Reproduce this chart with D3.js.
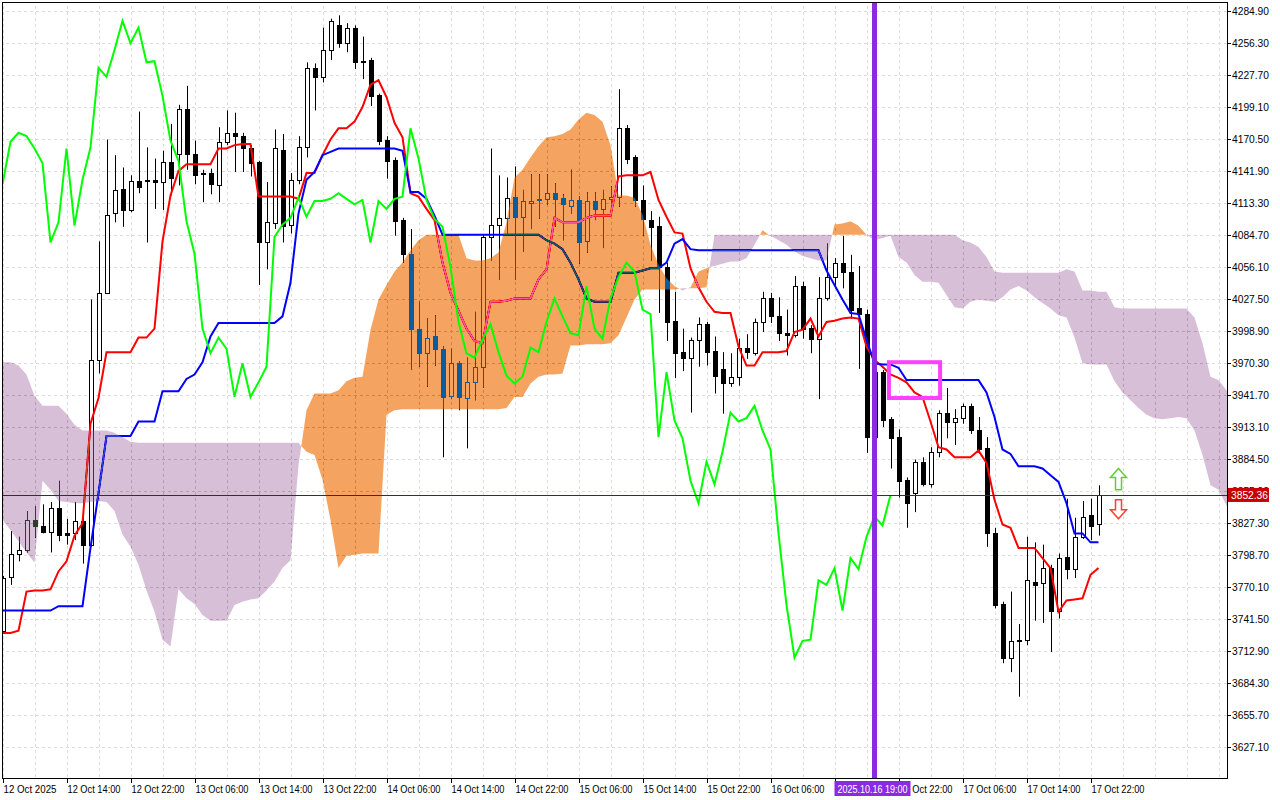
<!DOCTYPE html>
<html><head><meta charset="utf-8">
<script src="https://cdn.jsdelivr.net/npm/d3@7"></script>
<style>
html,body{margin:0;padding:0;background:#fff;}
svg{display:block;font-family:"Liberation Sans",Arial,sans-serif;}
</style></head>
<body><svg id="c" width="1280" height="800"></svg>
<script>
// ---- data (hourly ETH candles, 12 Oct 06:00 .. 17 Oct 23:00) ----
const opens=[3731,3779,3800,3803,3830,3825,3819,3841,3818,3818,3829,3808,3973,4033,4104,4126,4107,4133,4133,4134,4132,4150,4157,4197,4157,4140,4140,4129,4168,4176,4173,4162,4150,4078,4095,4161,4094,4134,4163,4234,4226,4250,4272,4256,4270,4240,4241,4210,4170,4152,4098,4068,4001,3979,3994,3983,3941,3970,3939,3953,3967,4083,4094,4100,4119,4101,4113,4117,4117,4122,4118,4111,4116,4079,4115,4108,4117,4119,4180,4154,4116,4098,4093,4056,4008,3980,3975,3991,4005,3981,3965,3952,3958,3984,3979,4007,4028,4012,3997,3995,4039,4002,3992,4028,4047,4060,4052,4019,4014,3904,3962,3920,3904,3866,3854,3882,3862,3891,3926,3918,3921,3932,3910,3894,3818,3755,3707,3722,3723,3775,3774,3787,3749,3797,3786,3815,3834,3826];
const highs=[3780,3820,3815,3838,3842,3844,3846,3865,3831,3846,3837,4027,4079,4170,4156,4145,4138,4195,4163,4153,4160,4184,4201,4218,4169,4143,4144,4181,4196,4194,4176,4165,4151,4132,4179,4175,4140,4173,4239,4238,4270,4278,4281,4274,4272,4262,4243,4211,4173,4154,4100,4090,4025,4010,4013,3985,3983,3972,3975,4016,4085,4162,4138,4136,4146,4125,4139,4139,4139,4131,4121,4143,4119,4123,4123,4125,4128,4215,4183,4156,4129,4106,4101,4060,4034,4001,3993,4011,4007,3994,3980,3979,3992,3996,4010,4034,4033,4029,4018,4048,4043,4004,4047,4077,4064,4084,4067,4057,4018,3970,3964,3922,3911,3868,3884,3886,3895,3928,3948,3929,3934,3934,3922,3904,3823,3757,3766,3737,3815,3810,3808,3790,3800,3849,3832,3847,3849,3861];
const lows=[3730,3772,3793,3801,3814,3818,3801,3811,3808,3812,3791,3806,3961,4033,4096,4092,4105,4122,4078,4108,4107,4120,4129,4143,4130,4114,4121,4114,4165,4141,4141,4137,4040,4054,4090,4078,4086,4130,4154,4196,4221,4241,4252,4248,4233,4224,4200,4165,4135,4084,4060,3964,3967,3949,3968,3886,3938,3928,3894,3937,3948,4062,4045,4085,4045,4070,4090,4099,4112,4092,4080,4104,4059,4069,4098,4073,4113,4110,4148,4110,4084,4062,4015,3990,3957,3963,3926,3967,3968,3943,3925,3949,3950,3974,3977,3998,4006,3990,3977,3993,3992,3979,3938,4026,4037,4037,4010,3965,3890,3890,3913,3876,3850,3823,3837,3860,3859,3886,3903,3897,3916,3907,3890,3806,3751,3702,3694,3672,3718,3740,3738,3712,3742,3777,3778,3813,3812,3816];
const closes=[3778,3800,3803,3830,3825,3819,3841,3817,3817,3829,3808,3973,4033,4103,4125,4107,4133,4128,4134,4132,4150,4136,4197,4157,4138,4139,4130,4168,4176,4173,4162,4149,4078,4096,4162,4093,4134,4163,4234,4226,4250,4276,4256,4270,4239,4240,4209,4169,4151,4097,4068,4001,3979,3993,3983,3940,3970,3940,3953,3967,4083,4094,4100,4118,4101,4115,4115,4117,4122,4117,4112,4116,4078,4115,4108,4117,4119,4180,4153,4116,4099,4092,4056,4007,3979,3975,3991,4005,3980,3959,3952,3958,3984,3980,4007,4028,4012,3997,3995,4039,4001,3992,4028,4047,4060,4052,4018,4014,3904,3962,3919,3903,3865,3845,3882,3862,3891,3926,3918,3921,3932,3910,3893,3818,3754,3707,3722,3723,3776,3772,3787,3749,3796,3786,3815,3833,3825,3852.36];
const tenkan=[3729,3729,3731,3766,3767,3767,3768,3784,3793,3816,3827,3916,3939,3980,3980,3980,3980,3993,3993,4001,4079,4120,4142,4148,4148,4148,4148,4162,4162,4165,4166,4166,4119,4119,4119,4119,4119,4117,4140,4140,4156,4170,4180,4180,4186,4199,4219,4223,4208,4185,4172,4122,4119,4108,4098,4060,4033,4017,4001,3990,3988,4025,4025,4026,4028,4028,4028,4045,4054,4100,4096,4096,4096,4100,4102,4102,4102,4137,4138,4138,4138,4141,4116,4101,4087,4086,4055,4038,4025,4016,4015,4015,3985,3968,3968,3980,3980,3980,3981,3998,4000,4010,3994,4007,4008,4010,4011,4010,3985,3973,3967,3960,3957,3953,3944,3940,3918,3895,3893,3886,3886,3886,3892,3881,3848,3826,3823,3805,3805,3805,3796,3787,3748,3758,3759,3760,3781,3787];
const kijun=[3749,3749,3749,3749,3749,3749,3749,3753,3753,3753,3753,3805,3854,3905,3905,3905,3905,3918,3918,3918,3945,3945,3945,3956,3960,3971,3994,4006,4006,4006,4006,4006,4006,4006,4006,4012,4042,4104,4134,4141,4156,4159,4162,4162,4162,4162,4162,4162,4162,4162,4160,4123,4123,4117,4102,4085,4085,4085,4085,4085,4085,4085,4085,4085,4085,4085,4085,4085,4080,4077,4072,4060,4045,4028,4025,4025,4025,4051,4051,4051,4053,4055,4055,4060,4077,4081,4072,4071,4071,4071,4071,4071,4071,4071,4071,4071,4071,4071,4071,4071,4071,4071,4071,4053,4040,4027,4015,4014,3991,3970,3969,3969,3966,3955,3955,3955,3955,3955,3955,3955,3955,3955,3955,3944,3922,3893,3889,3878,3878,3878,3876,3870,3864,3845,3818,3818,3810,3810];
const spanA=[3830,3821,3811,3801,3792,3865,3857,3847,3846,3845,3845,3846,3847,3846,3838,3817,3806,3790,3767,3748,3723,3717,3768,3760,3755,3745,3740,3740,3740,3754,3757,3759,3760,3767,3775,3787,3794,3879,3928,3943,3943,3943,3946,3954,3957,3958,4000,4027,4040,4052,4060,4071,4080,4085,4085,4085,4085,4085,4064,4062,4062,4064,4069,4096,4136,4143,4154,4164,4172,4173,4175,4179,4188,4194,4192,4186,4165,4120,4120,4118,4103,4076,4058,4046,4039,4035,4038,4052,4055,4057,4059,4061,4061,4064,4076,4089,4084,4080,4076,4070,4066,4064,4062,4062,4094,4095,4097,4093,4085,4080,4082,4084,4065,4060,4049,4043,4043,4042,4031,4020,4019,4025,4027,4026,4025,4029,4036,4039,4035,4029,4024,4019,4013,4011,3993,3970,3969,3969,3969,3954,3944,3937,3930,3924,3921,3920,3921,3922,3921,3910,3888,3861,3857,3843,3834];
const spanB=[3971,3971,3968,3960,3941,3932,3932,3932,3925,3915,3910,3910,3910,3910,3908,3904,3900,3899,3899,3899,3899,3899,3899,3899,3899,3899,3899,3899,3899,3899,3899,3899,3899,3899,3899,3899,3899,3899,3891,3888,3866,3830,3787,3798,3799,3800,3800,3800,3924,3928,3929,3929,3929,3929,3929,3929,3929,3929,3929,3929,3929,3929,3929,3930,3940,3940,3952,3958,3960,3960,3961,3986,3986,3987,3987,3987,3988,3995,4011,4027,4036,4036,4036,4036,4036,4037,4037,4037,4038,4085,4085,4085,4085,4085,4085,4085,4085,4085,4085,4085,4085,4085,4085,4085,4085,4085,4085,4085,4085,4085,4085,4085,4085,4085,4085,4085,4085,4085,4085,4085,4080,4078,4074,4065,4052,4051,4051,4051,4051,4051,4051,4051,4051,4054,4052,4035,4035,4034,4034,4020,4019,4019,4019,4019,4019,4019,4019,4019,4019,4011,3988,3958,3955,3946,3941];
const priceTicks=["4284.90","4256.30","4227.70","4199.10","4170.50","4141.90","4113.30","4084.70","4056.10","4027.50","3998.90","3970.30","3941.70","3913.10","3884.50","3855.90","3827.30","3798.70","3770.10","3741.50","3712.90","3684.30","3655.70","3627.10"];
const timeLabels=["12 Oct 2025","12 Oct 14:00","12 Oct 22:00","13 Oct 06:00","13 Oct 14:00","13 Oct 22:00","14 Oct 06:00","14 Oct 14:00","14 Oct 22:00","15 Oct 06:00","15 Oct 14:00","15 Oct 22:00","16 Oct 06:00","16 Oct 14:00","16 Oct 22:00","17 Oct 06:00","17 Oct 14:00","17 Oct 22:00"];
const lastPrice=3852.36;
const markerBar=109, markerLabel="2025.10.16 19:00";
const boxBars=[110.8,117.2], boxPrices=[3971,3939];
const arrowBar=139.5;

// ---- scales ----
const W=1227,H=778;
const x=d3.scaleLinear().domain([0,1]).range([2.5,10.5]);
const y=d3.scaleLinear().domain([3599.4,4294.7]).range([H,0]);
const svg=d3.select("#c");
svg.append("rect").attr("width",1280).attr("height",800).attr("fill","#fff");
svg.append("defs").append("clipPath").attr("id","clip").append("rect").attr("x",2).attr("y",2).attr("width",W-2).attr("height",H-2);
const g=svg.append("g").attr("clip-path","url(#clip)");
g.append("rect").attr("width",W).attr("height",H).attr("fill","#fff");

// grid
const gx=d3.range(0,160,4);
g.selectAll(".gv").data(gx).join("line").attr("x1",d=>Math.round(x(d))+0.5).attr("x2",d=>Math.round(x(d))+0.5).attr("y1",0).attr("y2",H)
 .attr("stroke","#dcdcdc").attr("stroke-dasharray","3,3");
g.selectAll(".gh").data(priceTicks).join("line").attr("x1",0).attr("x2",W).attr("y1",d=>Math.round(y(+d))+0.5).attr("y2",d=>Math.round(y(+d))+0.5)
 .attr("stroke","#dcdcdc").attr("stroke-dasharray","3,3");

// candles
const idx=d3.range(closes.length);
g.selectAll(".wick").data(idx).join("line").attr("x1",i=>Math.round(x(i))+0.5).attr("x2",i=>Math.round(x(i))+0.5).attr("y1",i=>y(highs[i])).attr("y2",i=>y(lows[i]))
 .attr("stroke","#000").attr("stroke-width",1);
g.selectAll(".body").data(idx).join("rect")
 .attr("x",i=>Math.round(x(i))-1.5).attr("width",4)
 .attr("y",i=>Math.round(y(Math.max(opens[i],closes[i])))+0.5)
 .attr("height",i=>Math.max(1,Math.round(y(Math.min(opens[i],closes[i])))-Math.round(y(Math.max(opens[i],closes[i])))))
 .attr("fill",i=>closes[i]>=opens[i]?"#fff":"#000").attr("stroke","#000");

// tenkan / kijun
const ln=d3.line().x((d,i)=>x(i)).y(d=>y(d));
g.append("path").attr("d",ln(tenkan)).attr("fill","none").attr("stroke","#ff0000").attr("stroke-width",2);
g.append("path").attr("d",ln(kijun)).attr("fill","none").attr("stroke","#0000ff").attr("stroke-width",2);

// cloud (XOR-like difference blending as in MT)
const pts=[];
for(let i=0;i<spanA.length;i++){
  const a=spanA[i],b=spanB[i];pts.push({i,a,b});
  if(i<spanA.length-1){const a2=spanA[i+1],b2=spanB[i+1];const d1=a-b,d2=a2-b2;
    if(d1*d2<0){const t=d1/(d1-d2);pts.push({i:i+t,a:a+t*(a2-a),b:b+t*(b2-b)});}}
}
const areaUp=d3.area().x(d=>x(d.i)).y0(d=>y(d.b)).y1(d=>y(Math.max(d.a,d.b)));
const areaDn=d3.area().x(d=>x(d.i)).y0(d=>y(d.a)).y1(d=>y(Math.max(d.a,d.b)));
g.append("path").attr("d",areaUp(pts)).attr("fill","#0b5b9f").style("mix-blend-mode","difference");
g.append("path").attr("d",areaDn(pts)).attr("fill","#274027").style("mix-blend-mode","difference");

// chikou = close shifted back 26 bars
const chikou=closes.slice(26);
g.append("path").attr("d",ln(chikou)).attr("fill","none").attr("stroke","#00ff00").attr("stroke-width",2);

// last price line
g.append("line").attr("x1",0).attr("x2",W).attr("y1",Math.round(y(lastPrice))+0.5).attr("y2",Math.round(y(lastPrice))+0.5).attr("stroke","#a00000").attr("stroke-width",1);

// vertical marker
g.append("line").attr("x1",x(markerBar)).attr("x2",x(markerBar)).attr("y1",0).attr("y2",H).attr("stroke","#8a2be2").attr("stroke-width",5);

// magenta box
g.append("rect").attr("x",x(boxBars[0])).attr("y",y(boxPrices[0])).attr("width",x(boxBars[1])-x(boxBars[0])).attr("height",y(boxPrices[1])-y(boxPrices[0]))
 .attr("fill","none").attr("stroke","#ff40ff").attr("stroke-width",4);

// arrows
const ax=x(arrowBar);
function arrow(top,bot,up){
  const hw=8,sw=3,hh=9;
  if(up) return `M${ax},${top} L${ax+hw},${top+hh} L${ax+sw},${top+hh} L${ax+sw},${bot} L${ax-sw},${bot} L${ax-sw},${top+hh} L${ax-hw},${top+hh} Z`;
  return `M${ax},${bot} L${ax+hw},${bot-hh} L${ax+sw},${bot-hh} L${ax+sw},${top} L${ax-sw},${top} L${ax-sw},${bot-hh} L${ax-hw},${bot-hh} Z`;
}
svg.append("path").attr("d",arrow(y(3876),y(3857),true)).attr("fill","#fff").attr("stroke","#66cc33").attr("stroke-width",1.5);
svg.append("path").attr("d",arrow(y(3848),y(3831),false)).attr("fill","#fff").attr("stroke","#ff4030").attr("stroke-width",1.5);

// frame
svg.append("rect").attr("x",2.5).attr("y",2.5).attr("width",W-2).attr("height",H-2).attr("fill","none").attr("stroke","#000");

// y axis labels
const ya=svg.append("g");
ya.selectAll("line").data(priceTicks).join("line").attr("x1",W).attr("x2",W+4).attr("y1",d=>Math.round(y(+d))+0.5).attr("y2",d=>Math.round(y(+d))+0.5).attr("stroke","#000");
ya.selectAll("text").data(priceTicks).join("text").attr("x",W+5).attr("y",d=>y(+d)+4).attr("font-size",10).attr("textLength",37).attr("lengthAdjust","spacingAndGlyphs").attr("fill","#000").text(d=>d);
// last price tag
svg.append("rect").attr("x",W+1).attr("y",y(lastPrice)-7).attr("width",41).attr("height",14).attr("fill","#c80000");
svg.append("text").attr("x",W+4).attr("y",y(lastPrice)+4).attr("font-size",10).attr("textLength",37).attr("lengthAdjust","spacingAndGlyphs").attr("fill","#fff").text(lastPrice.toFixed(2));

// x axis labels
const xa=svg.append("g");
xa.selectAll("line").data(timeLabels).join("line").attr("x1",(d,k)=>Math.round(x(k*8))+0.5).attr("x2",(d,k)=>Math.round(x(k*8))+0.5).attr("y1",H).attr("y2",H+5).attr("stroke","#000");
xa.selectAll("text").data(timeLabels).join("text").attr("x",(d,k)=>x(k*8)+1).attr("y",H+15).attr("font-size",10).attr("textLength",53).attr("lengthAdjust","spacingAndGlyphs").attr("fill","#000").text(d=>d);
// marker label
const mx=x(markerBar);
svg.append("rect").attr("x",mx-40).attr("y",H+3).attr("width",76).attr("height",15).attr("fill","#8a2be2");
svg.append("text").attr("x",mx-37).attr("y",H+15).attr("font-size",10).attr("textLength",70).attr("lengthAdjust","spacingAndGlyphs").attr("fill","#fff").text(markerLabel);
</script></body></html>
